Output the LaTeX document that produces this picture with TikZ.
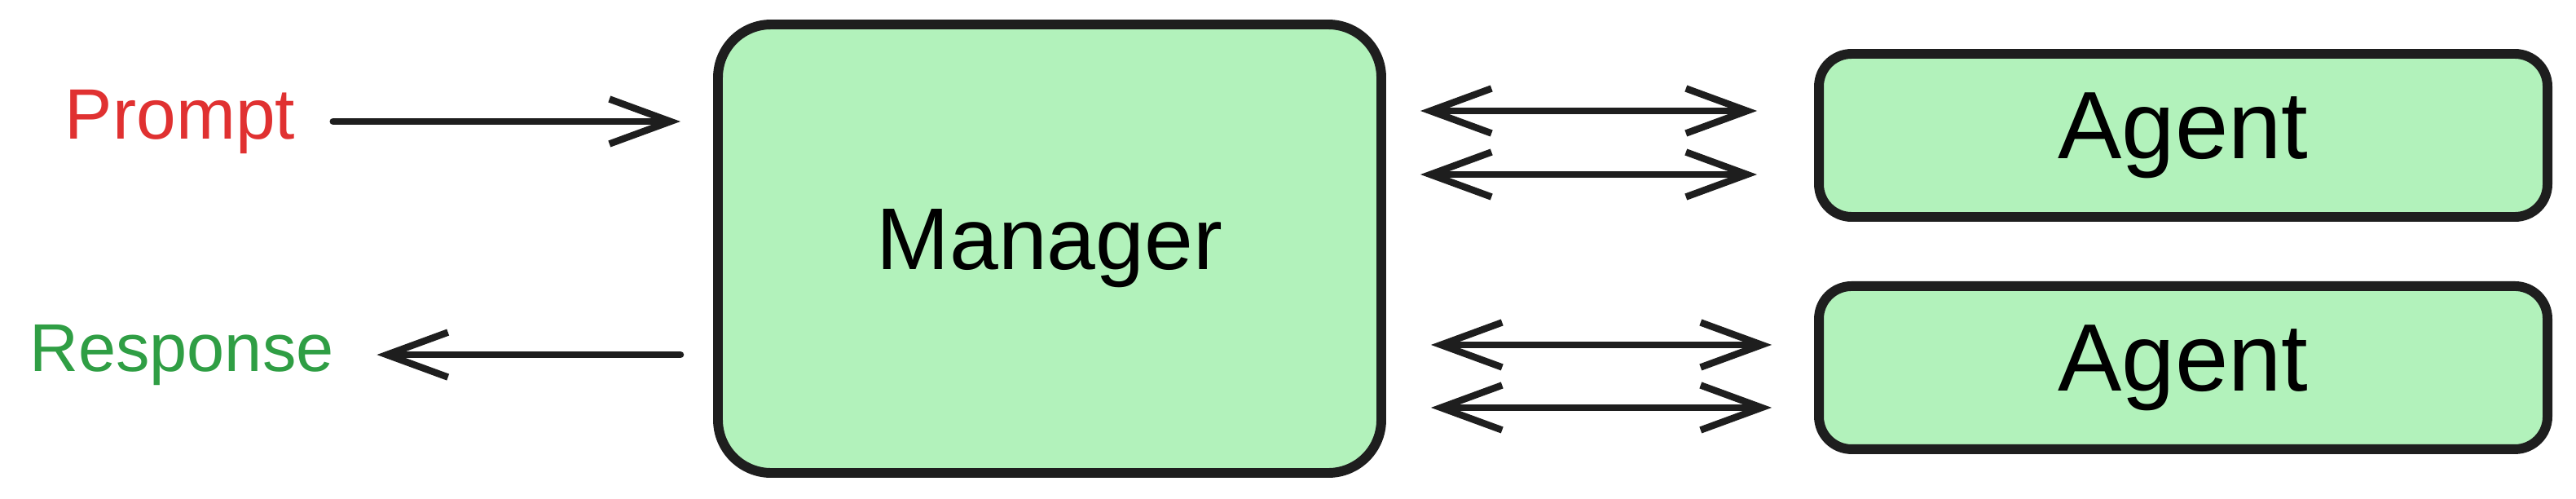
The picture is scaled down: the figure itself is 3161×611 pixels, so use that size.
\documentclass[tikz,border=0pt]{standalone}
\usepackage{xcolor}
\usepackage{fontspec}
\setmainfont{Liberation Sans}
\usepackage{tikz}
\usetikzlibrary{positioning,arrows.meta,calc}
\definecolor{ink}{HTML}{1E1E1E}
\definecolor{boxgreen}{HTML}{B2F2BB}
\definecolor{promptred}{HTML}{E03131}
\definecolor{replygreen}{HTML}{2F9E44}

\begin{document}
\begin{tikzpicture}[x=0.1mm,y=-0.1mm,
  box/.style={draw=ink, fill=boxgreen, line width=3.4pt, inner sep=0pt},
  word/.style={inner sep=0pt, anchor=base},
  link/.style={ink, line width=2.4pt, line cap=round, line join=round},
  >={Straight Barb[length=7.5mm,width=5.5mm]}]
\useasboundingbox (0,0) rectangle (3161,611);
% boxes
\node[box, rounded corners=6.5mm, minimum width=81.4mm, minimum height=55mm,
  font=\fontsize{30.6}{36}\selectfont] (manager) at (1288,305) {Manager};
\node[box, rounded corners=4mm, minimum width=89.4mm, minimum height=20mm,
  font=\fontsize{33.4}{40}\selectfont] (agent1) at (2679,166) {Agent};
\node[box, rounded corners=4mm, minimum width=89.4mm, minimum height=20mm,
  font=\fontsize{33.4}{40}\selectfont, below=7.3mm of agent1] (agent2) {Agent};
% in and out
\node[word, text=promptred, font=\fontsize{24.9}{30}\selectfont] (prompt) at (221,170) {Prompt};
\node[word, text=replygreen, font=\fontsize{23.6}{28}\selectfont] (response) at (223,455) {Response};
\draw[link][->, shorten <=4.6mm, shorten >=4mm] (prompt.east) -- (manager.west |- prompt.east);
\draw[link][->, shorten <=4mm, shorten >=5.2mm] (manager.west |- response.east) -- (response.east);
% manager <-> agents
\draw[link][<->, shorten <=4.2mm, shorten >=7mm] ($(manager.east |- agent1.west)+(0,-30)$) -- ($(agent1.west)+(0,-30)$);
\draw[link][<->, shorten <=4.2mm, shorten >=7mm] ($(manager.east |- agent1.west)+(0,48)$) -- ($(agent1.west)+(0,48)$);
\draw[link][<->, shorten <=5.5mm, shorten >=5.2mm] ($(manager.east |- agent2.west)+(0,-28)$) -- ($(agent2.west)+(0,-28)$);
\draw[link][<->, shorten <=5.5mm, shorten >=5.2mm] ($(manager.east |- agent2.west)+(0,49)$) -- ($(agent2.west)+(0,49)$);
\end{tikzpicture}
\end{document}
